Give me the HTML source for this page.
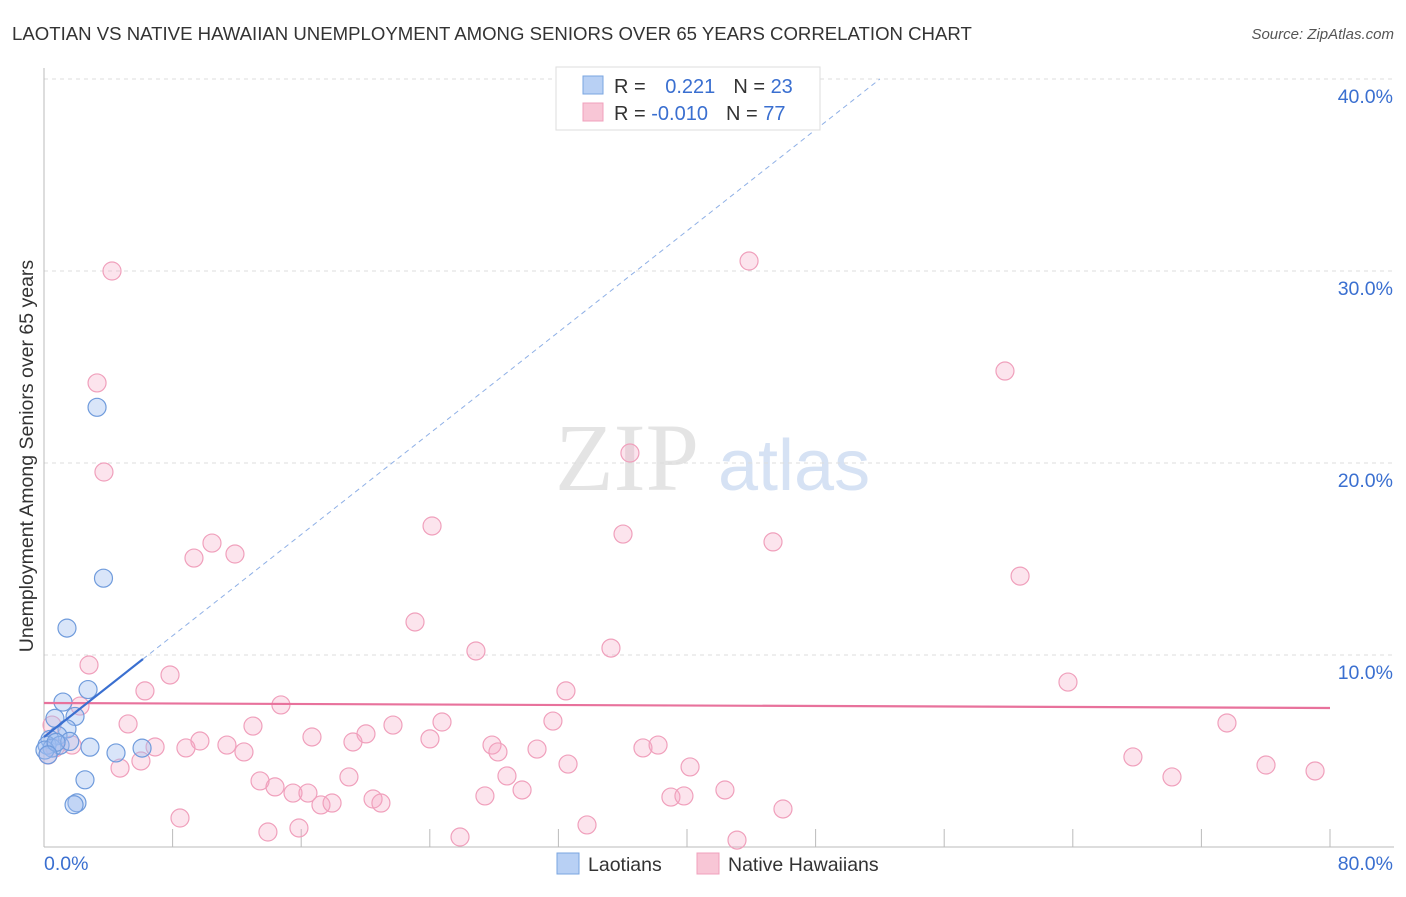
<!DOCTYPE html>
<html><head><meta charset="utf-8"><style>
body{margin:0;background:#fff;font-family:"Liberation Sans",sans-serif}
</style></head><body>
<svg width="1406" height="892" xmlns="http://www.w3.org/2000/svg" font-family="Liberation Sans, sans-serif">
<text x="12" y="40" font-size="18.6" fill="#333">LAOTIAN VS NATIVE HAWAIIAN UNEMPLOYMENT AMONG SENIORS OVER 65 YEARS CORRELATION CHART</text>
<text x="1394" y="39" font-size="15" fill="#555" font-style="italic" text-anchor="end">Source: ZipAtlas.com</text>
<g><text x="555" y="490" font-size="96" fill="#e4e4e4" font-family="Liberation Serif, serif">ZIP</text><text x="718" y="490" font-size="72" fill="#d6e2f4">atlas</text></g>
<g id="grid"></g><g id="axes"></g><g id="pts"></g><g id="trend"></g>
<text transform="translate(33,456) rotate(-90)" font-size="19.5" fill="#333" text-anchor="middle">Unemployment Among Seniors over 65 years</text>
<g>
<rect x="556" y="67" width="264" height="63" fill="#fff" stroke="#ddd"/>
<rect x="583" y="76" width="20" height="18" fill="#b8d0f4" stroke="#7aa6e0"/>
<rect x="583" y="103" width="20" height="18" fill="#f8c6d6" stroke="#f0a0bc"/>
<text x="614" y="93" font-size="20" fill="#333">R = <tspan fill="#3a6fd0" dx="14">0.221</tspan><tspan dx="18" fill="#333">N = </tspan><tspan fill="#3a6fd0">23</tspan></text>
<text x="614" y="120" font-size="20" fill="#333">R = <tspan fill="#3a6fd0">-0.010</tspan><tspan dx="18" fill="#333">N = </tspan><tspan fill="#3a6fd0">77</tspan></text>
</g>
<g>
<rect x="557" y="853" width="22" height="21" fill="#b8d0f4" stroke="#7aa6e0"/>
<text x="588" y="871" font-size="19.5" fill="#333">Laotians</text>
<rect x="697" y="853" width="22" height="21" fill="#f8c6d6" stroke="#f0a0bc"/>
<text x="728" y="871" font-size="19.5" fill="#333">Native Hawaiians</text>
</g>
</svg>
<script>
const blueX=[3.3,3.7,1.43,2.74,1.18,1.93,0.68,1.43,0.87,0.37,0.19,0.5,1.0,1.6,2.86,4.48,6.1,2.55,2.05,1.87,0.06,0.75,0.25];
const blueY=[22.9,14.0,11.4,8.2,7.55,6.8,6.7,6.15,5.8,5.6,5.3,5.15,5.3,5.5,5.2,4.9,5.15,3.5,2.3,2.2,5.05,5.45,4.8];
const pinkX=[4.23,3.30,3.73,43.86,59.78,36.45,24.14,36.02,45.35,10.45,11.88,9.33,60.72,23.08,26.87,35.27,2.80,7.84,6.28,32.47,63.70,14.74,5.23,13.00,21.71,24.76,31.66,73.59,16.67,20.03,24.01,9.70,11.38,8.83,6.91,12.44,19.22,27.87,28.24,30.67,37.26,38.20,32.60,6.03,4.73,40.19,67.74,76.02,79.07,18.97,13.44,14.37,15.49,16.42,28.80,70.17,27.43,29.74,42.36,39.00,39.81,17.23,17.92,20.47,20.96,8.46,45.97,33.78,13.93,15.86,25.88,43.11,0.25,0.68,1.74,2.24,0.50];
const pinkY=[30.0,24.17,19.53,30.52,24.79,20.52,16.72,16.30,15.89,15.83,15.26,15.05,14.11,11.72,10.21,10.36,9.48,8.96,8.13,8.13,8.59,7.40,6.41,6.30,6.35,6.51,6.56,6.46,5.73,5.89,5.63,5.52,5.31,5.16,5.21,4.95,5.47,5.31,4.95,5.10,5.16,5.31,4.32,4.48,4.11,4.17,4.69,4.27,3.96,3.65,3.44,3.13,2.81,2.81,3.70,3.65,2.66,2.97,2.97,2.60,2.66,2.19,2.29,2.50,2.29,1.51,1.98,1.15,0.78,0.99,0.52,0.36,4.79,5.16,5.31,7.34,6.35];
const yTicks=[10,20,30,40];
const yTickLabels=["10.0%","20.0%","30.0%","40.0%"];
const xTicks=[8,16,24,32,40,48,56,64,72,80];
const pinkTrend=[7.5,7.24];
const blueTrend={b:5.73,m:0.659,solidEnd:6.16,dashEnd:52};
const NS='http://www.w3.org/2000/svg';
const sx=v=>44+v*1286/80, sy=v=>847-v*19.2;
function mk(tag,attrs,parent){const e=document.createElementNS(NS,tag);for(const k in attrs)e.setAttribute(k,attrs[k]);document.getElementById(parent).appendChild(e);return e;}
yTicks.forEach((t,i)=>{
 const g=mk('line',{x1:44,x2:1394,y1:sy(t),y2:sy(t),stroke:'#ddd','stroke-dasharray':'4,4'},'grid');
 
 
 const l=mk('text',{x:1393,y:sy(t)+24,'font-size':19.5,fill:'#3a6fd0','text-anchor':'end'},'grid');
 l.textContent=yTickLabels[i];
 
 
});
const ax=mk('line',{x1:44,x2:44,y1:68,y2:847,stroke:'#bbb'},'axes');


const bx=mk('line',{x1:44,x2:1394,y1:847,y2:847,stroke:'#bbb'},'axes');


xTicks.forEach(t=>{const e=mk('line',{x1:sx(t),x2:sx(t),y1:829,y2:847,stroke:'#bbb'},'axes');
 
 });
const x0=mk('text',{x:44,y:870,'font-size':19.5,fill:'#3a6fd0'},'axes');x0.textContent='0.0%';


const x1=mk('text',{x:1393,y:870,'font-size':19.5,fill:'#3a6fd0','text-anchor':'end'},'axes');x1.textContent='80.0%';


pinkX.forEach((v,i)=>{const c=mk('circle',{cx:sx(v),cy:sy(pinkY[i]),r:9,fill:'rgba(244,165,195,0.3)',stroke:'#f0a0bc','stroke-width':1.2},'pts');
 
 });
blueX.forEach((v,i)=>{const c=mk('circle',{cx:sx(v),cy:sy(blueY[i]),r:9,fill:'rgba(160,190,240,0.4)',stroke:'#6f9bdc','stroke-width':1.2},'pts');
 
 });
const pt=mk('line',{x1:sx(0),y1:sy(pinkTrend[0]),x2:sx(80),y2:sy(pinkTrend[1]),stroke:'#e8729c','stroke-width':2.2},'trend');


const f=x=>blueTrend.b+blueTrend.m*x;
const bs=mk('line',{x1:sx(0),y1:sy(f(0)),x2:sx(blueTrend.solidEnd),y2:sy(f(blueTrend.solidEnd)),stroke:'#3a6fd0','stroke-width':2.2},'trend');


const bd=mk('line',{x1:sx(blueTrend.solidEnd),y1:sy(f(blueTrend.solidEnd)),x2:sx(blueTrend.dashEnd),y2:sy(f(blueTrend.dashEnd)),stroke:'#8fb0e6','stroke-width':1,'stroke-dasharray':'5,4'},'trend');


</script>
</body></html>
